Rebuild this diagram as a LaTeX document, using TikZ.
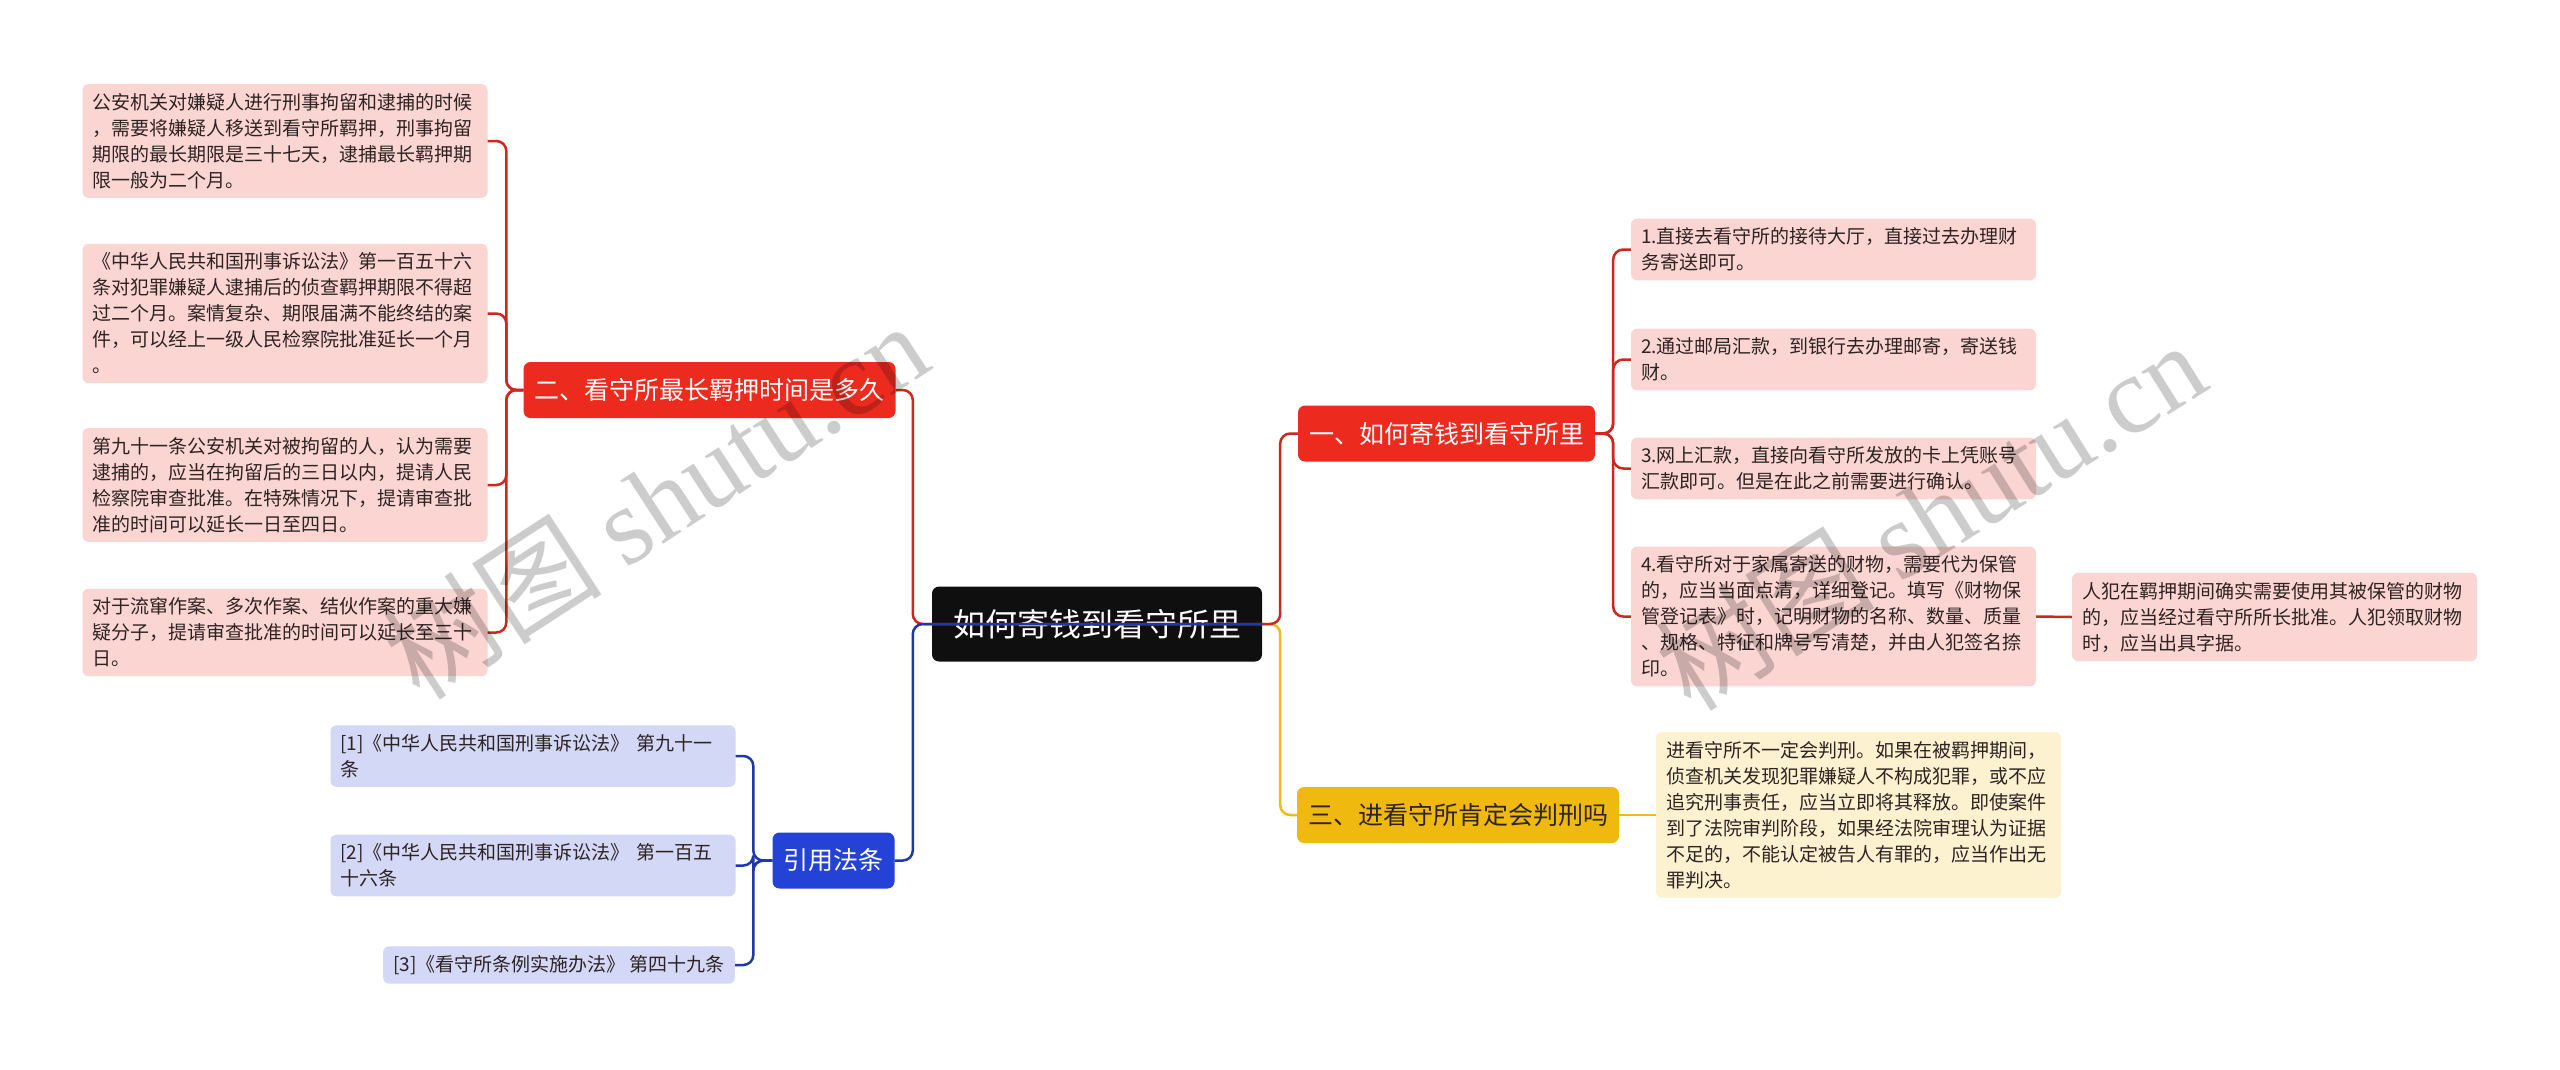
\documentclass[tikz,border=0pt]{standalone}
\usepackage{fontspec}
\setmainfont{Noto Sans CJK SC}
\newfontfamily\wmfont{Liberation Serif}
\definecolor{rootfill}{RGB}{15,15,15}
\definecolor{redfill}{RGB}{236,43,30}
\definecolor{redline}{RGB}{205,40,30}
\definecolor{pinkfill}{RGB}{251,213,210}
\definecolor{bluefill}{RGB}{36,66,214}
\definecolor{blueline}{RGB}{30,55,175}
\definecolor{lilacfill}{RGB}{211,216,246}
\definecolor{yellowfill}{RGB}{240,185,15}
\definecolor{yellowline}{RGB}{238,186,30}
\definecolor{creamfill}{RGB}{253,242,208}
\definecolor{leaftext}{RGB}{45,35,35}

\begin{document}
\begin{tikzpicture}[x=1pt,y=-1pt,
  leafbase/.style={rounded corners=6pt, inner xsep=10pt, inner ysep=9pt, align=left,
    font=\fontsize{19}{26}\selectfont, text=leaftext},
  leaf/.style={leafbase, text width=385pt},
  topic/.style={rounded corners=7pt, inner xsep=11pt, inner ysep=0pt, minimum height=56pt,
    font=\fontsize{25}{30}\selectfont},
  rline/.style={draw=redline, line width=2.5pt, rounded corners=10pt},
  bline/.style={draw=blueline, line width=2.5pt, rounded corners=10pt},
  yline/.style={draw=yellowline, line width=2.5pt, rounded corners=10pt},
  wm/.style={text=black, text opacity=0.2, font=\fontsize{110}{120}\selectfont}]
\fill[white] (0,0) rectangle (2560,1069);
\useasboundingbox (0,0) rectangle (2560,1069);
% centre
\node [fill=rootfill, text=white, rounded corners=7pt, minimum width=330pt, minimum height=75pt,
  font=\fontsize{32}{36}\selectfont, name=root] at (1097,624) {如何寄钱到看守所里};
% main topics
\node [topic, fill=redfill, text=white, name=n2] at (709.5,390) {二、看守所最长羁押时间是多久};
\node [topic, fill=bluefill, text=white, name=nref] at (833.5,860.5) {引用法条};
\node [topic, fill=redfill, text=white, name=n1] at (1446.5,433.5) {一、如何寄钱到看守所里};
\node [topic, fill=yellowfill, text=leaftext, name=n3] at (1458,815) {三、进看守所肯定会判刑吗};
% left leaves
\node [leaf, fill=pinkfill, name=l1] at (285,141) {公安机关对嫌疑人进行刑事拘留和逮捕的时候\\，需要将嫌疑人移送到看守所羁押，刑事拘留\\期限的最长期限是三十七天，逮捕最长羁押期\\限一般为二个月。};
\node [leaf, fill=pinkfill, name=l2] at (285,313.5) {《中华人民共和国刑事诉讼法》第一百五十六\\条对犯罪嫌疑人逮捕后的侦查羁押期限不得超\\过二个月。案情复杂、期限届满不能终结的案\\件，可以经上一级人民检察院批准延长一个月\\。};
\node [leaf, fill=pinkfill, name=l3] at (285,485) {第九十一条公安机关对被拘留的人，认为需要\\逮捕的，应当在拘留后的三日以内，提请人民\\检察院审查批准。在特殊情况下，提请审查批\\准的时间可以延长一日至四日。};
\node [leaf, fill=pinkfill, name=l4] at (285,632.5) {对于流窜作案、多次作案、结伙作案的重大嫌\\疑分子，提请审查批准的时间可以延长至三十\\日。};
\node [leaf, fill=lilacfill, name=b1] at (533,756) {[1]《中华人民共和国刑事诉讼法》 第九十一\\条};
\node [leaf, fill=lilacfill, name=b2] at (533,865.5) {[2]《中华人民共和国刑事诉讼法》 第一百五\\十六条};
\node [leafbase, fill=lilacfill, anchor=east, name=b3] at (735,965) {[3]《看守所条例实施办法》 第四十九条};
% right leaves
\node [leaf, fill=pinkfill, name=r1] at (1833.5,249.5) {1.直接去看守所的接待大厅，直接过去办理财\\务寄送即可。};
\node [leaf, fill=pinkfill, name=r2] at (1833.5,359.5) {2.通过邮局汇款，到银行去办理邮寄，寄送钱\\财。};
\node [leaf, fill=pinkfill, name=r3] at (1833.5,468.5) {3.网上汇款，直接向看守所发放的卡上凭账号\\汇款即可。但是在此之前需要进行确认。};
\node [leaf, fill=pinkfill, name=r4] at (1833.5,616.5) {4.看守所对于家属寄送的财物，需要代为保管\\的，应当当面点清，详细登记。填写《财物保\\管登记表》时，记明财物的名称、数量、质量\\、规格、特征和牌号写清楚，并由人犯签名捺\\印。};
\node [leaf, fill=pinkfill, name=rc] at (2274.5,617) {人犯在羁押期间确实需要使用其被保管的财物\\的，应当经过看守所所长批准。人犯领取财物\\时，应当出具字据。};
\node [leaf, fill=creamfill, name=y1] at (1858.5,815) {进看守所不一定会判刑。如果在被羁押期间，\\侦查机关发现犯罪嫌疑人不构成犯罪，或不应\\追究刑事责任，应当立即将其释放。即使案件\\到了法院审判阶段，如果经法院审理认为证据\\不足的，不能认定被告人有罪的，应当作出无\\罪判决。};
% connectors
\coordinate (ls) at ([xshift=-19pt]root.west);
\coordinate (rs) at ([xshift=18pt]root.east);
\draw [yline] (root.east) -- (rs) |- (n3.west);
\draw [rline] (root.east) -- (rs) |- (n1.west);
\draw [rline] (root.east) -- (ls) |- (n2.east);
\draw [bline] (root.east) -- (ls) |- (nref.east);
\foreach \i in {1,...,4}
  \draw [rline] (n2.west) -- ++(-17,0) |- (l\i.east);
\foreach \i in {1,...,3}
  \draw [bline] (nref.west) -- ++(-19,0) |- (b\i.east);
\foreach \i in {1,...,4}
  \draw [rline] (n1.east) -- ++(18,0) |- (r\i.west);
\draw [rline] (r4.east) -- (rc.west);
\draw [yline] (n3.east) -- (y1.west);
% watermark
\node [wm, rotate=33, name=wm1] at (655,500) {树图 {\wmfont shutu.cn}};
\node [wm, rotate=32, name=wm2] at (1930,515) {树图 {\wmfont shutu.cn}};
\end{tikzpicture}
\end{document}
